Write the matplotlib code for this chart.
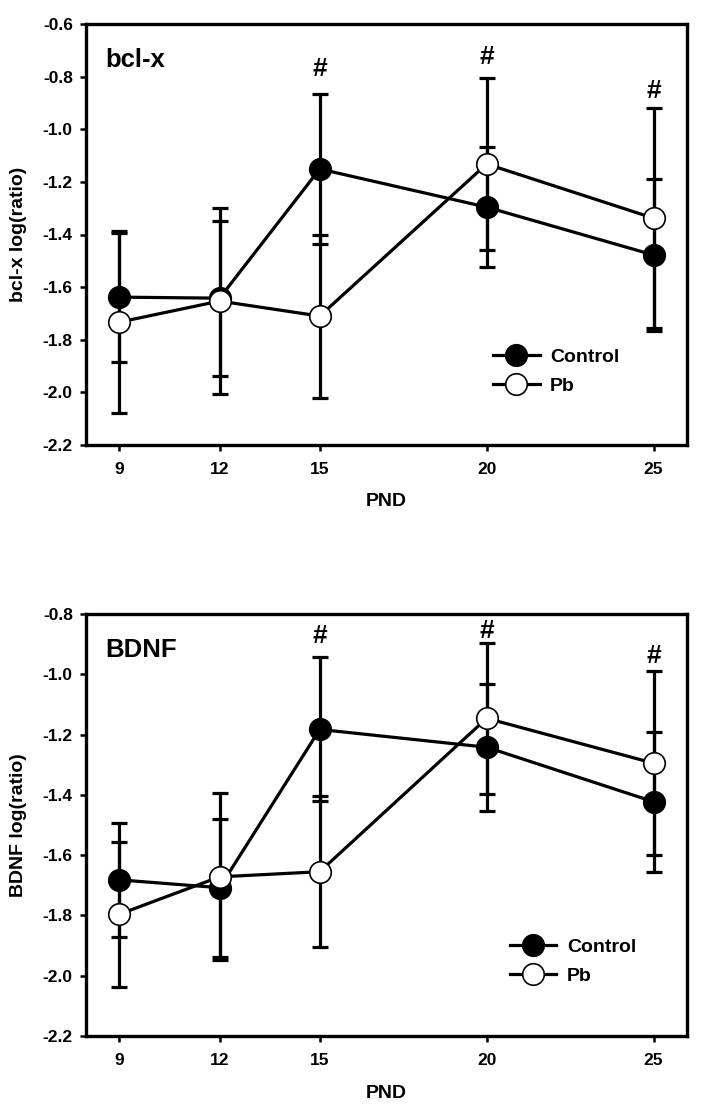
import matplotlib
matplotlib.use("Agg")
import matplotlib.pyplot as plt
import numpy as np

plt.rcParams['font.family'] = ['Liberation Sans', 'DejaVu Sans']
plt.rcParams['font.weight'] = 'bold'

pnd = [9, 12, 15, 20, 25]
xticks = [9, 12, 15, 20, 25]

# bcl-x panel
bcl_control = [-1.638, -1.642, -1.151, -1.296, -1.478]
bcl_control_se = [0.245, 0.295, 0.285, 0.228, 0.29]
bcl_pb = [-1.733, -1.653, -1.710, -1.132, -1.338]
bcl_pb_se = [0.345, 0.355, 0.31, 0.326, 0.419]
bcl_sig_x = [15, 20, 25]
bcl_sig_y = [-0.771, -0.724, -0.855]
bcl_yticks = [-2.2, -2.0, -1.8, -1.6, -1.4, -1.2, -1.0, -0.8, -0.6]

# BDNF panel
bdnf_control = [-1.682, -1.708, -1.183, -1.242, -1.423]
bdnf_control_se = [0.19, 0.229, 0.239, 0.21, 0.232]
bdnf_pb = [-1.796, -1.672, -1.655, -1.146, -1.295]
bdnf_pb_se = [0.24, 0.277, 0.25, 0.25, 0.305]
bdnf_sig_x = [15, 20, 25]
bdnf_sig_y = [-0.873, -0.856, -0.939]
bdnf_yticks = [-2.2, -2.0, -1.8, -1.6, -1.4, -1.2, -1.0, -0.8]

W, H = 710, 1119
fig = plt.figure(figsize=(W / 100, H / 100), dpi=100)


def make_axes(top_px, bottom_px):
    left, right = 86, 687
    return fig.add_axes([left / W, 1 - bottom_px / H, (right - left) / W, (bottom_px - top_px) / H])


def panel(ax, ctrl, ctrl_se, pb, pb_se, sig_x, sig_y, yticks, title, ylabel, legpos):
    lw = 2.3
    ax.errorbar(pnd, ctrl, yerr=ctrl_se, fmt='none', ecolor='black', elinewidth=lw,
                capsize=5.5, capthick=lw, zorder=2)
    ax.errorbar(pnd, pb, yerr=pb_se, fmt='none', ecolor='black', elinewidth=lw,
                capsize=5.5, capthick=lw, zorder=2)
    ax.plot(pnd, ctrl, '-o', color='black', lw=lw, ms=15.5, mfc='black', mec='black',
            mew=1.2, label='Control', zorder=3)
    ax.plot(pnd, pb, '-o', color='black', lw=lw, ms=15.5, mfc='white', mec='black',
            mew=1.2, label='Pb', zorder=4)
    for x, y in zip(sig_x, sig_y):
        ax.text(x, y, '#', ha='center', va='center', fontsize=19, fontweight='bold')
    ax.set_xlim(8, 26)
    ax.set_ylim(yticks[0], yticks[-1])
    ax.set_xticks(xticks)
    ax.set_yticks(yticks)
    ax.set_yticklabels([f'{v:.1f}' for v in yticks])
    ax.tick_params(direction='out', length=4.5, width=1.8, labelsize=12.5, top=False, right=False)
    ax.tick_params(axis='x', pad=8)
    ax.tick_params(axis='y', pad=5)
    for lab in ax.get_xticklabels() + ax.get_yticklabels():
        lab.set_fontweight('bold')
    for s in ax.spines.values():
        s.set_linewidth(2.4)
    ax.text(19 / 601, 1 - 36 / 421, title, transform=ax.transAxes, ha='left', va='center',
            fontsize=18.5, fontweight='bold')
    ax.set_xlabel('PND', fontsize=14, fontweight='bold')
    ax.set_ylabel(ylabel, fontsize=14, fontweight='bold')
    ax.yaxis.set_label_coords(-0.098, 0.5)
    ax.xaxis.set_label_coords(0.5, -0.115)
    ax.legend(loc='center left', bbox_to_anchor=legpos, frameon=False, numpoints=1,
              handlelength=2.4, handletextpad=0.55, labelspacing=0.58,
              borderpad=0, borderaxespad=0, prop={'size': 14, 'weight': 'bold'})


ax1 = make_axes(24, 445)
panel(ax1, bcl_control, bcl_control_se, bcl_pb, bcl_pb_se, bcl_sig_x, bcl_sig_y,
      bcl_yticks, 'bcl-x', 'bcl-x log(ratio)', (0.677, 0.175))

ax2 = make_axes(614, 1036)
panel(ax2, bdnf_control, bdnf_control_se, bdnf_pb, bdnf_pb_se, bdnf_sig_x, bdnf_sig_y,
      bdnf_yticks, 'BDNF', 'BDNF log(ratio)', (0.705, 0.1765))

fig.savefig('out.png', dpi=100)
